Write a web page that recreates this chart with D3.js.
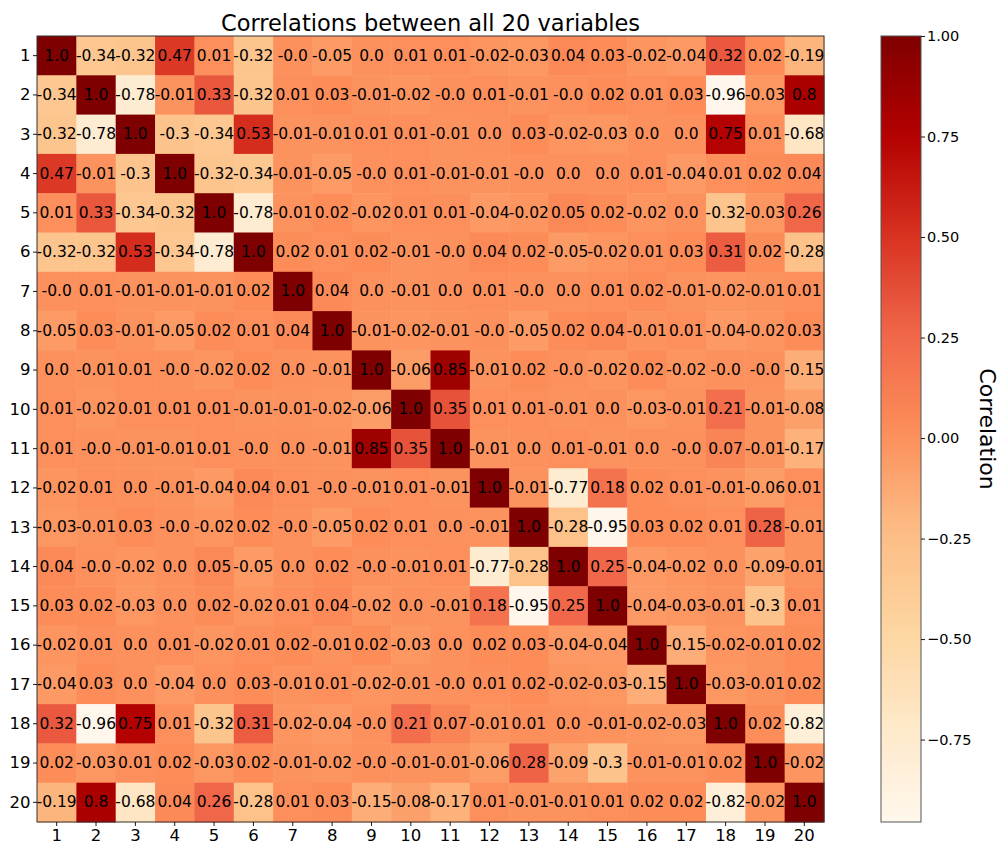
<!DOCTYPE html>
<html>
<head>
<meta charset="utf-8">
<script src="https://cdn.jsdelivr.net/npm/d3@7"></script>
<style>
  body { margin: 0; background: #fff; }
  svg { font-family: "DejaVu Sans", sans-serif; }
</style>
</head>
<body>
<script>
;(function () {
  // variable names, 1..20
  const variables = ['1', '2', '3', '4', '5', '6', '7', '8', '9', '10',
    '11', '12', '13', '14', '15', '16', '17', '18', '19', '20']

  // correlation matrix, one row per variable (rounded to 2 places as printed)
  const corr = [
    [1.0, -0.34, -0.32, 0.47, 0.01, -0.32, -0.0, -0.05, 0.0, 0.01, 0.01, -0.02, -0.03, 0.04, 0.03, -0.02, -0.04, 0.32, 0.02, -0.19],
    [-0.34, 1.0, -0.78, -0.01, 0.33, -0.32, 0.01, 0.03, -0.01, -0.02, -0.0, 0.01, -0.01, -0.0, 0.02, 0.01, 0.03, -0.96, -0.03, 0.8],
    [-0.32, -0.78, 1.0, -0.3, -0.34, 0.53, -0.01, -0.01, 0.01, 0.01, -0.01, 0.0, 0.03, -0.02, -0.03, 0.0, 0.0, 0.75, 0.01, -0.68],
    [0.47, -0.01, -0.3, 1.0, -0.32, -0.34, -0.01, -0.05, -0.0, 0.01, -0.01, -0.01, -0.0, 0.0, 0.0, 0.01, -0.04, 0.01, 0.02, 0.04],
    [0.01, 0.33, -0.34, -0.32, 1.0, -0.78, -0.01, 0.02, -0.02, 0.01, 0.01, -0.04, -0.02, 0.05, 0.02, -0.02, 0.0, -0.32, -0.03, 0.26],
    [-0.32, -0.32, 0.53, -0.34, -0.78, 1.0, 0.02, 0.01, 0.02, -0.01, -0.0, 0.04, 0.02, -0.05, -0.02, 0.01, 0.03, 0.31, 0.02, -0.28],
    [-0.0, 0.01, -0.01, -0.01, -0.01, 0.02, 1.0, 0.04, 0.0, -0.01, 0.0, 0.01, -0.0, 0.0, 0.01, 0.02, -0.01, -0.02, -0.01, 0.01],
    [-0.05, 0.03, -0.01, -0.05, 0.02, 0.01, 0.04, 1.0, -0.01, -0.02, -0.01, -0.0, -0.05, 0.02, 0.04, -0.01, 0.01, -0.04, -0.02, 0.03],
    [0.0, -0.01, 0.01, -0.0, -0.02, 0.02, 0.0, -0.01, 1.0, -0.06, 0.85, -0.01, 0.02, -0.0, -0.02, 0.02, -0.02, -0.0, -0.0, -0.15],
    [0.01, -0.02, 0.01, 0.01, 0.01, -0.01, -0.01, -0.02, -0.06, 1.0, 0.35, 0.01, 0.01, -0.01, 0.0, -0.03, -0.01, 0.21, -0.01, -0.08],
    [0.01, -0.0, -0.01, -0.01, 0.01, -0.0, 0.0, -0.01, 0.85, 0.35, 1.0, -0.01, 0.0, 0.01, -0.01, 0.0, -0.0, 0.07, -0.01, -0.17],
    [-0.02, 0.01, 0.0, -0.01, -0.04, 0.04, 0.01, -0.0, -0.01, 0.01, -0.01, 1.0, -0.01, -0.77, 0.18, 0.02, 0.01, -0.01, -0.06, 0.01],
    [-0.03, -0.01, 0.03, -0.0, -0.02, 0.02, -0.0, -0.05, 0.02, 0.01, 0.0, -0.01, 1.0, -0.28, -0.95, 0.03, 0.02, 0.01, 0.28, -0.01],
    [0.04, -0.0, -0.02, 0.0, 0.05, -0.05, 0.0, 0.02, -0.0, -0.01, 0.01, -0.77, -0.28, 1.0, 0.25, -0.04, -0.02, 0.0, -0.09, -0.01],
    [0.03, 0.02, -0.03, 0.0, 0.02, -0.02, 0.01, 0.04, -0.02, 0.0, -0.01, 0.18, -0.95, 0.25, 1.0, -0.04, -0.03, -0.01, -0.3, 0.01],
    [-0.02, 0.01, 0.0, 0.01, -0.02, 0.01, 0.02, -0.01, 0.02, -0.03, 0.0, 0.02, 0.03, -0.04, -0.04, 1.0, -0.15, -0.02, -0.01, 0.02],
    [-0.04, 0.03, 0.0, -0.04, 0.0, 0.03, -0.01, 0.01, -0.02, -0.01, -0.0, 0.01, 0.02, -0.02, -0.03, -0.15, 1.0, -0.03, -0.01, 0.02],
    [0.32, -0.96, 0.75, 0.01, -0.32, 0.31, -0.02, -0.04, -0.0, 0.21, 0.07, -0.01, 0.01, 0.0, -0.01, -0.02, -0.03, 1.0, 0.02, -0.82],
    [0.02, -0.03, 0.01, 0.02, -0.03, 0.02, -0.01, -0.02, -0.0, -0.01, -0.01, -0.06, 0.28, -0.09, -0.3, -0.01, -0.01, 0.02, 1.0, -0.02],
    [-0.19, 0.8, -0.68, 0.04, 0.26, -0.28, 0.01, 0.03, -0.15, -0.08, -0.17, 0.01, -0.01, -0.01, 0.01, 0.02, 0.02, -0.82, -0.02, 1.0],
  ]

  const colorbarTicks = [1.0, 0.75, 0.5, 0.25, 0.0, -0.25, -0.5, -0.75]
  const title = 'Correlations between all 20 variables'
  const colorbarLabel = 'Correlation'

  // matplotlib OrRd = straight rgb ramp through the 9 brewer colours
  const orRd = ['#fff7ec', '#fee8c8', '#fdd49e', '#fdbb84', '#fc8d59',
    '#ef6548', '#d7301f', '#b30000', '#7f0000']
  const vmin = -0.955
  const vmax = 1.0

  const W = 1000
  const H = 844
  const plot = { left: 37, top: 36, right: 824, bottom: 822 }
  const bar = { left: 881, right: 921 }

  const svg = d3.select('body').append('svg')
    .attr('width', W).attr('height', H)

  const ramp = d3.piecewise(d3.interpolateRgb, orRd)
  const color = d3.scaleSequential(ramp).domain([vmin, vmax]).clamp(true)

  const x = d3.scaleBand().domain(variables).range([plot.left, plot.right])
  const y = d3.scaleBand().domain(variables).range([plot.top, plot.bottom])

  const fmt = (v) => Object.is(v, -0) ? '-0.0'
    : Number.isInteger(v) ? v.toFixed(1) : String(v)

  const cells = []
  corr.forEach((row, i) => row.forEach((v, j) => {
    cells.push({ row: variables[i], col: variables[j], v })
  }))

  svg.append('g')
    .selectAll('rect')
    .data(cells)
    .enter()
    .append('rect')
    .attr('x', (d) => x(d.col))
    .attr('y', (d) => y(d.row))
    .attr('width', x.bandwidth() + 0.5)
    .attr('height', y.bandwidth() + 0.5)
    .attr('fill', (d) => color(d.v))

  svg.append('g')
    .selectAll('text')
    .data(cells)
    .enter()
    .append('text')
    .attr('x', (d) => x(d.col) + x.bandwidth() / 2)
    .attr('y', (d) => y(d.row) + y.bandwidth() / 2)
    .attr('text-anchor', 'middle')
    .attr('dominant-baseline', 'central')
    .attr('font-size', '15.5px')
    .attr('fill', '#000')
    .text((d) => fmt(d.v))

  // frame
  svg.append('rect')
    .attr('x', plot.left).attr('y', plot.top)
    .attr('width', plot.right - plot.left)
    .attr('height', plot.bottom - plot.top)
    .attr('fill', 'none').attr('stroke', '#333').attr('stroke-width', 1)

  const styleAxis = (g, size) => {
    g.select('.domain').remove()
    g.selectAll('.tick line').attr('stroke', '#000').attr('stroke-width', 0.9)
    g.selectAll('.tick text').attr('font-size', size).attr('fill', '#000')
      .attr('font-family', '"DejaVu Sans", sans-serif')
  }

  svg.append('g')
    .attr('transform', `translate(${plot.left},0)`)
    .call(d3.axisLeft(y).tickSize(4).tickPadding(2.5))
    .call((g) => styleAxis(g, '16.5px'))

  svg.append('g')
    .attr('transform', `translate(0,${plot.bottom})`)
    .call(d3.axisBottom(x).tickSize(4).tickPadding(3))
    .call((g) => styleAxis(g, '16.5px'))

  svg.append('text')
    .attr('x', (plot.left + plot.right) / 2)
    .attr('y', 31)
    .attr('text-anchor', 'middle')
    .attr('font-size', '22.5px')
    .attr('fill', '#000')
    .text(title)

  // colour bar
  const cy = d3.scaleLinear().domain([vmin, vmax]).range([plot.bottom, plot.top])
  const grad = svg.append('defs').append('linearGradient')
    .attr('id', 'cbar').attr('x1', 0).attr('y1', 1).attr('x2', 0).attr('y2', 0)
  d3.range(0, 1.0001, 0.02).forEach((t) => {
    grad.append('stop')
      .attr('offset', t)
      .attr('stop-color', color(vmin + t * (vmax - vmin)))
  })
  svg.append('rect')
    .attr('x', bar.left).attr('y', plot.top)
    .attr('width', bar.right - bar.left)
    .attr('height', plot.bottom - plot.top)
    .attr('fill', 'url(#cbar)')
    .attr('stroke', '#555').attr('stroke-width', 1)

  svg.append('g')
    .attr('transform', `translate(${bar.right},0)`)
    .call(d3.axisRight(cy).tickValues(colorbarTicks).tickSize(4).tickPadding(2)
      .tickFormat((v) => d3.format('.2f')(v).replace('-', '\u2212')))
    .call((g) => styleAxis(g, '14.5px'))

  svg.append('text')
    .attr('transform', `translate(980,${(plot.top + plot.bottom) / 2}) rotate(90)`)
    .attr('text-anchor', 'middle')
    .attr('font-size', '22px')
    .attr('fill', '#000')
    .text(colorbarLabel)
})()
</script>
</body>
</html>
